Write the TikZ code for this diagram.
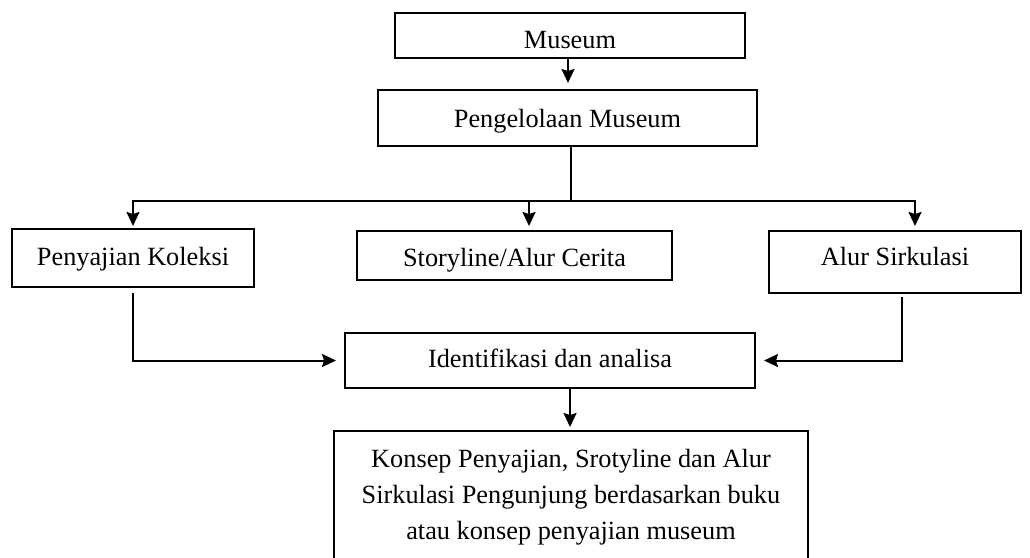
\documentclass[tikz,border=0pt]{standalone}
\usepackage{fontspec}
\setmainfont{Liberation Serif}
\usetikzlibrary{arrows.meta}
\begin{document}
\begin{tikzpicture}[x=1pt,y=-1pt]
\tikzset{
  boxbase/.style={draw, line width=2pt, inner sep=0pt, align=center, font=\fontsize{26.3}{36}\selectfont},
  box/.style={boxbase, text height=18pt, text depth=0pt},
  conn/.style={line width=2pt},
  arr/.style={conn, -{Stealth[length=14pt,width=13pt,inset=2pt]}},
}
\useasboundingbox (0,0) rectangle (1030,557);
\clip (0,0) rectangle (1030,557);

\node[box, minimum width=350pt, minimum height=45pt, text height=25pt] (museum) at (570,35.5) {Museum};
\node[box, minimum width=379pt, minimum height=56pt] (peng) at (567.5,118) {Pengelolaan Museum};
\node[box, minimum width=242pt, minimum height=58pt, text height=14pt] (peny) at (133,258) {Penyajian Koleksi};
\node[box, minimum width=315pt, minimum height=49pt, text height=21pt] (story) at (514.5,255.5) {Storyline/Alur Cerita};
\node[box, minimum width=252pt, minimum height=62pt, text height=6pt] (alur) at (895,262) {Alur Sirkulasi};
\node[box, minimum width=410pt, minimum height=55pt, text height=13pt] (ident) at (550,360.5) {Identifikasi dan analisa};
\node[boxbase, anchor=north, minimum width=474pt, inner ysep=18pt] (konsep) at (571,430)
  {Konsep Penyajian, Srotyline dan Alur\\Sirkulasi Pengunjung berdasarkan buku\\atau konsep penyajian museum};

\coordinate (busM) at (529,201);

\draw[arr, shorten >=6pt] ([xshift=-2pt]museum.south) -- ([xshift=-2pt]museum.south |- peng.north);
\draw[conn] ([xshift=3.5pt]peng.south) -- ([xshift=3.5pt]peng.south |- busM);
\draw[arr, shorten >=2pt] (busM) -| (peny.north);
\draw[arr, shorten >=4pt] (busM) -| ([xshift=20pt]alur.north);
\draw[arr, shorten >=4pt] (busM) -- (busM |- story.north);
\draw[arr, shorten <=5pt, shorten >=8pt] (peny.south) |- (ident.west);
\draw[arr, shorten <=3pt, shorten >=8pt] ([xshift=7pt]alur.south) |- (ident.east);
\draw[arr, shorten >=3pt] ([xshift=20pt]ident.south) -- ([xshift=20pt]ident.south |- konsep.north);
\end{tikzpicture}
\end{document}
